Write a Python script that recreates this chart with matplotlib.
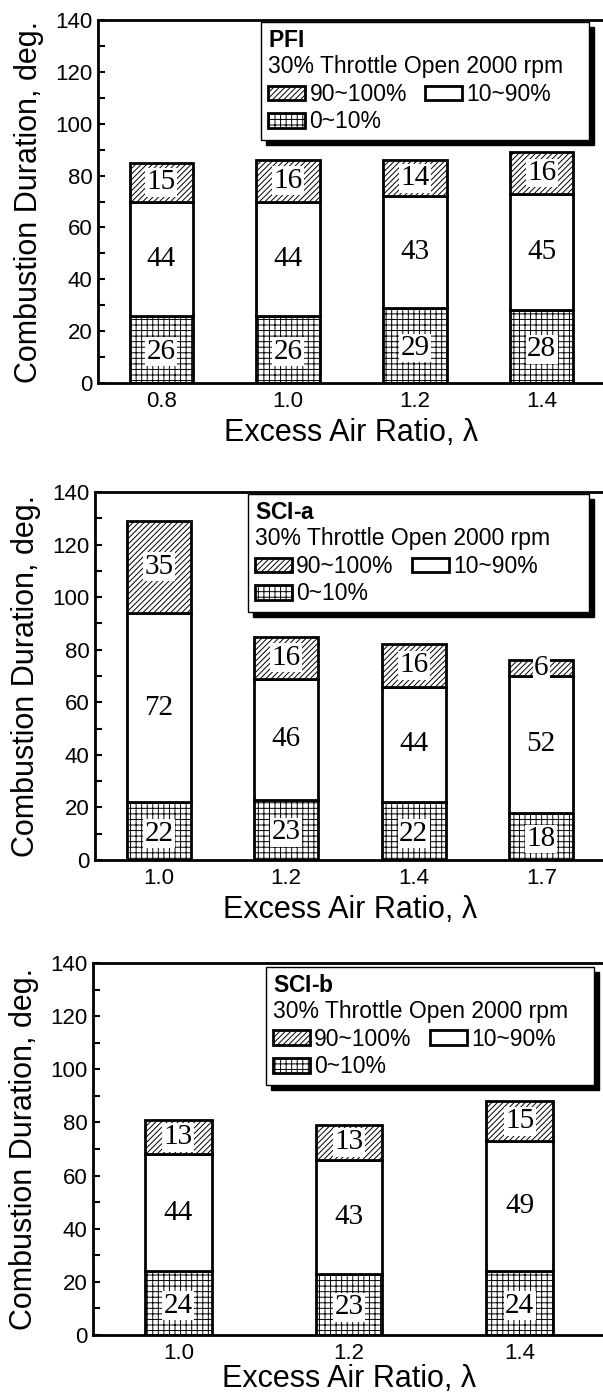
import matplotlib
matplotlib.use("Agg")
import matplotlib.pyplot as plt
from matplotlib.patches import Patch
from matplotlib.ticker import MultipleLocator
import numpy as np

# ---------------- data ----------------
pfi_x = ["0.8", "1.0", "1.2", "1.4"]
pfi_0_10 = [26, 26, 29, 28]
pfi_10_90 = [44, 44, 43, 45]
pfi_90_100 = [15, 16, 14, 16]

scia_x = ["1.0", "1.2", "1.4", "1.7"]
scia_0_10 = [22, 23, 22, 18]
scia_10_90 = [72, 46, 44, 52]
scia_90_100 = [35, 16, 16, 6]

scib_x = ["1.0", "1.2", "1.4"]
scib_0_10 = [24, 23, 24]
scib_10_90 = [44, 43, 49]
scib_90_100 = [13, 13, 15]

titles = ["PFI", "SCI\u2010a", "SCI\u2010b"]
condition = "30% Throttle Open 2000 rpm"
series_labels = ["90~100%", "10~90%", "0~10%"]
ylabel = "Combustion Duration, deg."
xlabel = "Excess Air Ratio, \u03bb"

plt.rcParams['font.family'] = ['Liberation Sans', 'DejaVu Sans']
plt.rcParams['mathtext.fontset'] = 'custom'
plt.rcParams['mathtext.bf'] = 'Liberation Sans:bold'
plt.rcParams['mathtext.rm'] = 'Liberation Sans'
plt.rcParams['hatch.linewidth'] = 0.7

fig = plt.figure(figsize=(6.03, 13.96), dpi=100)

panels = [
    dict(x=pfi_x, a=pfi_0_10, b=pfi_10_90, c=pfi_90_100, width=0.5,
         rect=[98/603, 1-383/1396, 507/603, 363/1396],
         leg=(0.322, 0.995), xpad=4, sp=3),
    dict(x=scia_x, a=scia_0_10, b=scia_10_90, c=scia_90_100, width=0.5,
         rect=[95/603, 1-860/1396, 510/603, 368/1396],
         leg=(0.300, 0.995), xpad=4, sp=5),
    dict(x=scib_x, a=scib_0_10, b=scib_10_90, c=scib_90_100, width=0.39,
         rect=[93/603, 1-1335/1396, 512/603, 372/1396],
         leg=(0.338, 0.99), xpad=0, sp=3),
]

hatch_top = '//////'
hatch_bot = '+++'
edge_lw = 2.0
num_font = dict(family='Liberation Serif', fontsize=21)

for p, title in zip(panels, titles):
    ax = fig.add_axes(p['rect'])
    n = len(p['x'])
    pos = np.arange(n)
    a = np.array(p['a']); b = np.array(p['b']); c = np.array(p['c'])
    ax.bar(pos, a, width=p['width'], facecolor='white', edgecolor='black',
           hatch=hatch_bot, linewidth=edge_lw, zorder=2)
    ax.bar(pos, b, bottom=a, width=p['width'], facecolor='white',
           edgecolor='black', linewidth=edge_lw, zorder=2)
    ax.bar(pos, c, bottom=a + b, width=p['width'], facecolor='white',
           edgecolor='black', hatch=hatch_top, linewidth=edge_lw, zorder=2)
    bbox = dict(facecolor='white', edgecolor='none', pad=1.0)
    for i in range(n):
        ax.text(pos[i], a[i] / 2 - 1, str(a[i]), ha='center', va='center',
                bbox=bbox, zorder=5, **num_font)
        ax.text(pos[i], a[i] + b[i] / 2, str(b[i]), ha='center', va='center',
                zorder=5, **num_font)
        ax.text(pos[i], a[i] + b[i] + c[i] / 2, str(c[i]), ha='center',
                va='center', bbox=bbox, zorder=5, **num_font)

    ax.set_xlim(-0.5, n - 0.5)
    ax.set_ylim(0, 140)
    ax.set_xticks(pos)
    ax.set_xticklabels(p['x'])
    ax.yaxis.set_major_locator(MultipleLocator(20))
    ax.yaxis.set_minor_locator(MultipleLocator(10))
    ax.tick_params(axis='x', length=0, pad=6, labelsize=16)
    ax.tick_params(axis='y', which='both', direction='in', width=1.5,
                   labelsize=16, pad=4)
    ax.tick_params(axis='y', which='major', length=5)
    ax.tick_params(axis='y', which='minor', length=5)
    for s in ax.spines.values():
        s.set_linewidth(2.0)
    ax.set_ylabel(ylabel, fontsize=22, labelpad=8)
    ax.set_xlabel(xlabel, fontsize=22, labelpad=p['xpad'])

    handles = [
        Patch(facecolor='white', edgecolor='black', hatch=hatch_top, linewidth=2.0),
        Patch(facecolor='white', edgecolor='black', hatch=hatch_bot, linewidth=2.0),
        Patch(facecolor='white', edgecolor='black', linewidth=2.0),
    ]
    labels = [series_labels[0], series_labels[2], series_labels[1]]
    leg = ax.legend(handles, labels, ncol=2, loc='upper left',
                    bbox_to_anchor=p['leg'],
                    title=r"$\bf{" + title + "}$\n" + condition + " " * p['sp'],
                    title_fontsize=16.5, fontsize=16.5, frameon=True,
                    fancybox=False, edgecolor='black', framealpha=1,
                    shadow={'color': 'black', 'alpha': 1, 'ox': 3.5, 'oy': -3.5},
                    handlelength=1.6, handleheight=0.6, handletextpad=0.2,
                    columnspacing=0.8, labelspacing=0.2, borderpad=0.3,
                    borderaxespad=0)
    leg._legend_box.align = 'left'
    leg.get_frame().set_linewidth(1.0)
    leg.set_zorder(6)

fig.savefig("out.png", dpi=100)
